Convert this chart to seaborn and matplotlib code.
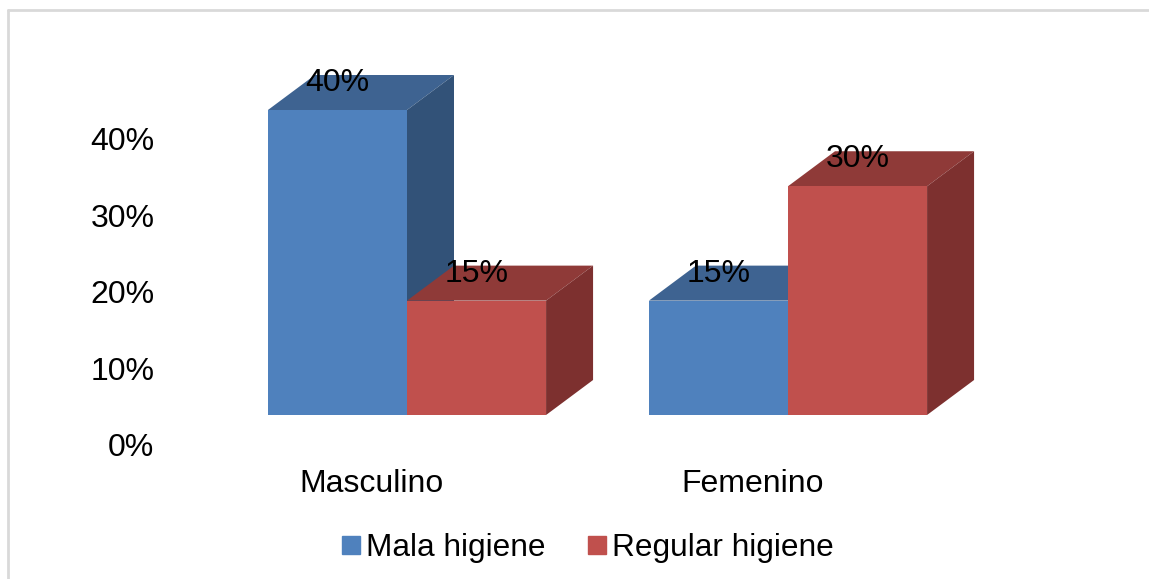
import pandas as pd
import seaborn as sns
import matplotlib.pyplot as plt
from matplotlib.lines import Line2D

# Values
sexos = ["Masculino", "Femenino"]
higiene = ["Mala higiene", "Regular higiene"]
mala = [40, 15]
regular = [15, 30]
y_ticks = [0, 10, 20, 30, 40]

W, H = 1149, 579
front = {"Mala higiene": "#4f81bd", "Regular higiene": "#c0504d"}
top_face = {"Mala higiene": "#3e6391", "Regular higiene": "#8f3a38"}
side_face = {"Mala higiene": "#325278", "Regular higiene": "#7d302f"}

data = pd.DataFrame({
    "Sexo": sexos * 2,
    "Higiene": [higiene[0]] * 2 + [higiene[1]] * 2,
    "Porcentaje": mala + regular,
})

sns.set_theme(style="white")
plt.rcParams["font.family"] = ["Liberation Sans", "DejaVu Sans"]
FS = 23

fig = plt.figure(figsize=(W / 100, H / 100), dpi=100, facecolor="white")


def rect(left, top, right, bottom):
    # pixel box (from top left) to figure fractions
    return [left / W, 1 - bottom / H, (right - left) / W, (bottom - top) / H]


# Bars axes: front plane of the fake 3D box
ax = fig.add_axes(rect(160, 0, W, 450), facecolor="none")
sns.barplot(data=data, x="Sexo", y="Porcentaje", hue="Higiene", hue_order=higiene,
            order=sexos, palette=front, saturation=1, width=0.73, gap=0, ax=ax, zorder=5,
            linewidth=0, edgecolor="none")

px_x = 381  # pixels per category
px_y = 7.625  # pixels per percent
ax.set_xlim((160 - 407) / px_x, (W - 407) / px_x)
ax.set_ylim((415 - 450) / px_y, 415 / px_y)
dx = 47 / px_x
dy = 35 / px_y

# Depth faces built from the bars seaborn drew
for i, (name, bars) in enumerate(zip(higiene, ax.containers)):
    for bar in bars:
        x0, x1 = bar.get_x(), bar.get_x() + bar.get_width()
        h = bar.get_height()
        ax.fill([x0, x1, x1 + dx, x0 + dx], [h, h, h + dy, h + dy],
                color=top_face[name], lw=0, zorder=2 + i)
        ax.fill([x1, x1 + dx, x1 + dx, x1], [0, dy, h + dy, h],
                color=side_face[name], lw=0, zorder=2 + i)
        ax.text(x0 + bar.get_width() / 2, h + 27 / px_y, f"{h:.0f}%", ha="center",
                va="center", fontsize=FS, color="black", zorder=10)

ax.set_xlabel("")
ax.set_ylabel("")
ax.set_yticks([])
# Category names sit left of the bar groups in the original
ax.set_xticks([i - 35 / px_x for i in range(len(sexos))], sexos)
ax.tick_params(axis="x", length=0, labelsize=FS, pad=14, colors="black")
sns.despine(ax=ax, left=True, bottom=True)

handles = [plt.Rectangle((0, 0), 1, 1, color=front[n]) for n in higiene]
ax.legend(handles, higiene, loc="center", bbox_to_anchor=(588 / W, 1 - 548 / H),
          bbox_transform=fig.transFigure, ncol=2, frameon=False, fontsize=22.8,
          handlelength=0.54, handleheight=0.5, handletextpad=0.2, columnspacing=1.36,
          labelcolor="black")

# Value axis sits lower than the bars, as in the original
ax_y = fig.add_axes(rect(160, 138.5, W, 445), facecolor="none", zorder=-1)
ax_y.set_ylim(0, 40)
ax_y.set_yticks(y_ticks, [f"{v}%" for v in y_ticks])
ax_y.set_xticks([])
ax_y.tick_params(axis="y", length=0, labelsize=FS, pad=4, colors="black")
sns.despine(ax=ax_y, left=True, bottom=True)

# Chart frame, only left and top show
frame = "#d9d9d9"
fig.add_artist(Line2D([8 / W, 8 / W], [0, 1 - 10 / H], color=frame, lw=2))
fig.add_artist(Line2D([8 / W, 1], [1 - 10 / H, 1 - 10 / H], color=frame, lw=2))

fig.savefig("out.png", dpi=100, facecolor="white")
